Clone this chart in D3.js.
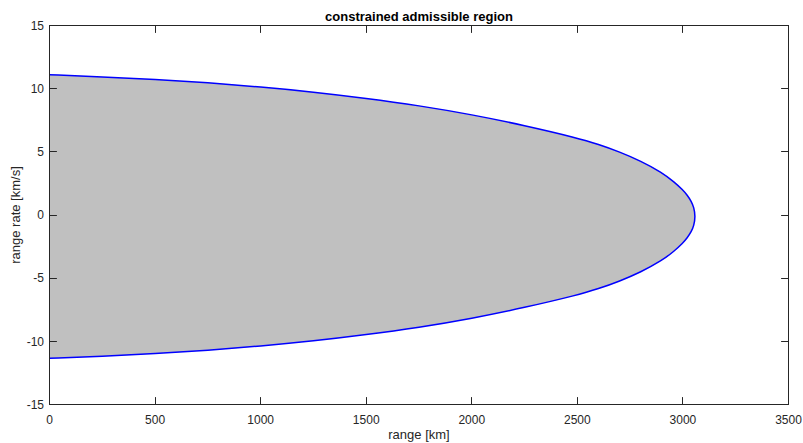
<!DOCTYPE html>
<html>
<head>
<meta charset="utf-8">
<script src="https://cdn.jsdelivr.net/npm/d3@7"></script>
<style>
  html, body { margin: 0; padding: 0; background: #fff; }
  svg { display: block; font-family: Arial, "Liberation Sans", Helvetica, sans-serif; }
</style>
</head>
<body>
<div id="chart"></div>
<script>
// Boundary of the admissible region (range in km, rate in km/s)
const rangeKm = [0, 250, 500, 750, 1000, 1250, 1500, 1750, 2000, 2250, 2500, 2600, 2700, 2800, 2900, 2960, 3000, 3020, 3040, 3052, 3059];
const rateUpper = [11.10, 10.94, 10.74, 10.47, 10.14, 9.74, 9.24, 8.66, 7.95, 7.09, 6.10, 5.60, 5.00, 4.28, 3.38, 2.60, 1.98, 1.58, 1.08, 0.60, -0.12];
const rateLower = [-11.34, -11.18, -10.98, -10.71, -10.38, -9.98, -9.48, -8.90, -8.19, -7.33, -6.34, -5.84, -5.24, -4.52, -3.62, -2.84, -2.22, -1.82, -1.32, -0.84, -0.12];

const xTicks = [0, 500, 1000, 1500, 2000, 2500, 3000, 3500];
const yTicks = [-15, -10, -5, 0, 5, 10, 15];

const W = 803, H = 443;
const margin = { left: 49.5, right: 803 - 788.5, top: 25.5, bottom: 443 - 404.5 };
const axisColor = '#262626';
const tickLen = 7.4;

const svg = d3.select('#chart').append('svg')
  .attr('width', W)
  .attr('height', H)
  .attr('viewBox', [0, 0, W, H]);

const x = d3.scaleLinear().domain([0, 3500]).range([margin.left, W - margin.right]);
const y = d3.scaleLinear().domain([-15, 15]).range([H - margin.bottom, margin.top]);

// closed outline: upper branch out to the tip, lower branch back to range 0
const upperPts = rangeKm.map((r, i) => [r, rateUpper[i]]);
const lowerPts = rangeKm.map((r, i) => [r, rateLower[i]]).slice(0, -1).reverse();
const outline = upperPts.concat(lowerPts);

const line = d3.line()
  .x((d) => x(d[0]))
  .y((d) => y(d[1]))
  .curve(d3.curveBasis);

svg.append('path')
  .attr('d', line(outline) + 'Z')
  .attr('fill', '#c0c0c0')
  .attr('stroke', 'none');

svg.append('path')
  .attr('d', line(outline))
  .attr('fill', 'none')
  .attr('stroke', '#0000ff')
  .attr('stroke-width', 1.5);

// axes (MATLAB style box with inward ticks)
const gAxes = svg.append('g').attr('stroke', axisColor).attr('stroke-width', 1).attr('fill', 'none');
gAxes.append('rect')
  .attr('x', x(0)).attr('y', y(15))
  .attr('width', x(3500) - x(0)).attr('height', y(-15) - y(15));

xTicks.forEach((t) => {
  const px = Math.round(x(t) - 0.5) + 0.5;
  gAxes.append('line').attr('x1', px).attr('x2', px).attr('y1', y(-15)).attr('y2', y(-15) - tickLen);
  gAxes.append('line').attr('x1', px).attr('x2', px).attr('y1', y(15)).attr('y2', y(15) + tickLen);
});
yTicks.forEach((t) => {
  const py = Math.round(y(t) - 0.5) + 0.5;
  gAxes.append('line').attr('y1', py).attr('y2', py).attr('x1', x(0)).attr('x2', x(0) + tickLen);
  gAxes.append('line').attr('y1', py).attr('y2', py).attr('x1', x(3500)).attr('x2', x(3500) - tickLen);
});

svg.append('g').selectAll('text')
  .data(xTicks)
  .join('text')
  .attr('x', (d) => x(d))
  .attr('y', 423.5)
  .attr('text-anchor', 'middle')
  .attr('font-size', 12)
  .attr('fill', axisColor)
  .text((d) => d);

svg.append('g').selectAll('text')
  .data(yTicks)
  .join('text')
  .attr('x', x(0) - 5.5)
  .attr('y', (d) => y(d) + 4.3)
  .attr('text-anchor', 'end')
  .attr('font-size', 12)
  .attr('fill', axisColor)
  .text((d) => d);

svg.append('text')
  .attr('x', (x(0) + x(3500)) / 2)
  .attr('y', 439)
  .attr('text-anchor', 'middle')
  .attr('font-size', 13)
  .attr('fill', axisColor)
  .text('range [km]');

svg.append('text')
  .attr('transform', `translate(20,${(y(-15) + y(15)) / 2}) rotate(-90)`)
  .attr('text-anchor', 'middle')
  .attr('font-size', 13)
  .attr('fill', axisColor)
  .text('range rate [km/s]');

svg.append('text')
  .attr('x', (x(0) + x(3500)) / 2)
  .attr('y', 20.5)
  .attr('text-anchor', 'middle')
  .attr('font-size', 13)
  .attr('font-weight', 'bold')
  .attr('fill', '#000')
  .text('constrained admissible region');
</script>
</body>
</html>
